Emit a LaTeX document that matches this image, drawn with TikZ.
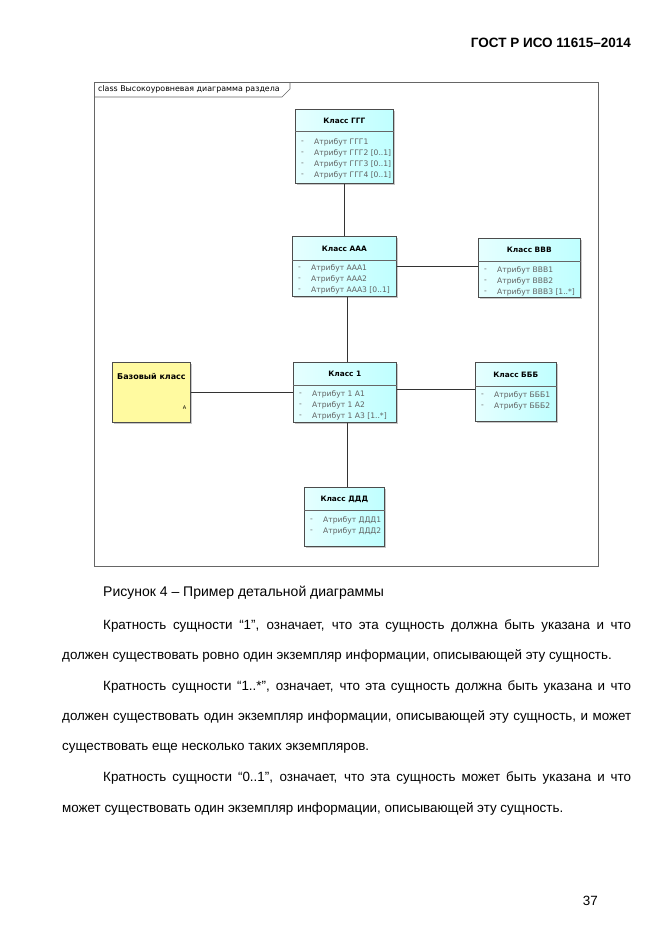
\documentclass[tikz,border=0pt]{standalone}
\usepackage{fontspec}
\setmainfont{Liberation Sans}
\newfontfamily\diafont{DejaVu Sans}
\usetikzlibrary{shadows,calc}
\tikzset{
  cls/.style={draw=black!70, line width=0.6pt, rectangle, anchor=north west, inner sep=0pt,
    left color=cyan!10, right color=cyan!25,
    drop shadow={shadow xshift=1.6pt, shadow yshift=-1.6pt, fill=black!22, opacity=1}},
  basecls/.style={draw=black!70, line width=0.6pt, rectangle, anchor=north west, inner sep=0pt,
    fill={rgb,255:red,255;green,250;blue,160},
    drop shadow={shadow xshift=1.6pt, shadow yshift=-1.6pt, fill=black!22, opacity=1}},
  sepline/.style={draw=black!60, line width=0.5pt},
  cname/.style={font=\diafont\fontsize{7.4}{8}\selectfont\bfseries, text=black, inner sep=0pt},
  attrtxt/.style={font=\diafont\fontsize{7.6}{8}\selectfont, text=black!62, anchor=west, inner sep=0pt},
  conn/.style={draw=black!80, line width=0.6pt},
  frame/.style={draw=black!60, line width=0.6pt},
  bodytxt/.style={font=\fontsize{13.4}{15}\selectfont, anchor=base west, inner sep=0pt},
}
% #1 name, #2 x, #3 y, #4 w, #5 h, #6 sep offset, #7 title
\newcommand\mkclass[7]{%
  \node[cls, minimum width=#4pt, minimum height=#5pt] (#1) at (#2,#3) {};
  \draw[sepline] ($(#1.north west)+(0,#6)$) -- ($(#1.north east)+(0,#6)$);
  \node[cname] (#1-t) at ($(#1.north)+(0,#6/2+0.5)$) {#7};
}
% #1 class, #2 y offset, #3 text, #4 id
\newcommand\mkattr[4]{%
  \node[attrtxt] (#1-d#4) at ($(#1.north west)+(6,#2)$) {-};
  \node[attrtxt] (#1-a#4) at ($(#1.north west)+(19,#2)$) {#3};
}
\begin{document}
\begin{tikzpicture}[x=1pt,y=-1pt]
\path[use as bounding box, fill=white] (0,0) rectangle (661,935);

% header
\node[font=\fontsize{13.5}{15}\selectfont\bfseries, anchor=base east, inner sep=0pt] (hdr) at (631,47) {ГОСТ Р ИСО 11615–2014};

% frame
\node[frame, rectangle, anchor=north west, minimum width=504pt, minimum height=484pt, inner sep=0pt] (frm) at (94,82) {};
\coordinate (tabA) at (94,97);
\coordinate (tabB) at (282,97);
\coordinate (tabC) at (290,89);
\coordinate (tabD) at (290,82);
\draw[frame] (tabA) -- (tabB) -- (tabC) -- (tabD);
\node[font=\diafont\fontsize{7.9}{9}\selectfont, anchor=west, inner sep=0pt] (ttl) at (98,89.5) {class Высокоуровневая диаграмма раздела};

% classes
\mkclass{ggg}{295}{109}{98}{74}{22}{Класс ГГГ}
\mkattr{ggg}{33}{Атрибут ГГГ1}{1}
\mkattr{ggg}{44}{Атрибут ГГГ2 [0..1]}{2}
\mkattr{ggg}{55}{Атрибут ГГГ3 [0..1]}{3}
\mkattr{ggg}{66}{Атрибут ГГГ4 [0..1]}{4}

\mkclass{aaa}{292}{236}{104}{60}{24}{Класс ААА}
\mkattr{aaa}{32}{Атрибут ААА1}{1}
\mkattr{aaa}{43}{Атрибут ААА2}{2}
\mkattr{aaa}{54}{Атрибут ААА3 [0..1]}{3}

\mkclass{vvv}{478}{238}{102}{59}{23}{Класс ВВВ}
\mkattr{vvv}{32}{Атрибут ВВВ1}{1}
\mkattr{vvv}{43}{Атрибут ВВВ2}{2}
\mkattr{vvv}{54}{Атрибут ВВВ3 [1..*]}{3}

\mkclass{k1}{293}{362}{103}{60}{23}{Класс 1}
\mkattr{k1}{32}{Атрибут 1 А1}{1}
\mkattr{k1}{43}{Атрибут 1 А2}{2}
\mkattr{k1}{54}{Атрибут 1 А3 [1..*]}{3}

\mkclass{bbb}{475}{362}{81}{59}{24}{Класс БББ}
\mkattr{bbb}{33}{Атрибут БББ1}{1}
\mkattr{bbb}{44}{Атрибут БББ2}{2}

\mkclass{ddd}{304}{487}{80}{59}{23}{Класс ДДД}
\mkattr{ddd}{33}{Атрибут ДДД1}{1}
\mkattr{ddd}{44}{Атрибут ДДД2}{2}

\node[basecls, minimum width=78pt, minimum height=60pt] (base) at (112,362) {};
\node[cname, anchor=west, font=\diafont\fontsize{8}{9}\selectfont\bfseries] (base-t) at ($(base.north west)+(5,14)$) {Базовый класс};
\node[font=\diafont\fontsize{5}{6}\selectfont, inner sep=0pt] (base-m) at ($(base.north east)+(-6,46)$) {A};

% connectors
\draw[conn] (ggg.south) -- (aaa.north);
\draw[conn] (aaa.east) -- (vvv.west |- aaa.east);
\draw[conn] ($(aaa.south)+(3,0)$) -- ($(k1.north)+(2.5,0)$);
\draw[conn] (base.east) -- (k1.west |- base.east);
\draw[conn] ($(k1.east)+(0,-3)$) -- ($(bbb.west)+(0,-2.5)$);
\draw[conn] ($(k1.south)+(2.5,0)$) -- ($(ddd.north)+(3,0)$);

% caption and text
\node[bodytxt, font=\fontsize{14}{15}\selectfont] (cap) at (103,596) {Рисунок 4 – Пример детальной диаграммы};
\node[bodytxt] (p1a) at (103,629) {\makebox[528pt][s]{Кратность сущности “1”, означает, что эта сущность должна быть указана и что}};
\node[bodytxt] (p1b) at (62,659) {должен существовать ровно один экземпляр информации, описывающей эту сущность.};
\node[bodytxt] (p2a) at (103,690) {\makebox[528pt][s]{Кратность сущности “1..*”, означает, что эта сущность должна быть указана и что}};
\node[bodytxt] (p2b) at (62,720) {\makebox[569pt][s]{должен существовать один экземпляр информации, описывающей эту сущность, и может}};
\node[bodytxt] (p2c) at (62,750) {существовать еще несколько таких экземпляров.};
\node[bodytxt] (p3a) at (103,781) {\makebox[528pt][s]{Кратность сущности “0..1”, означает, что эта сущность может быть указана и что}};
\node[bodytxt] (p3b) at (62,812) {может существовать один экземпляр информации, описывающей эту сущность.};

\node[font=\fontsize{13.4}{15}\selectfont, anchor=base east, inner sep=0pt] (pg) at (598,905) {37};
\end{tikzpicture}
\end{document}
